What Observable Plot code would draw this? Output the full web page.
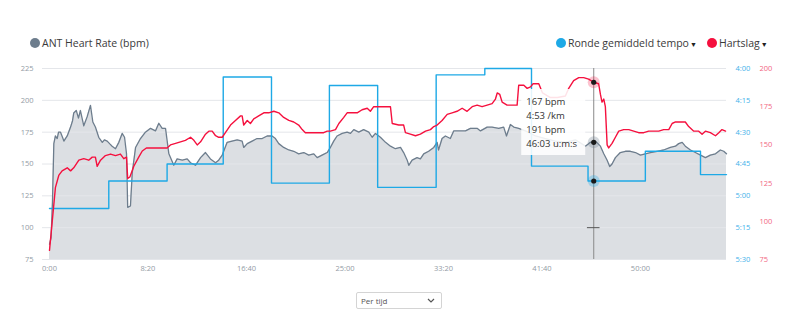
<!DOCTYPE html>
<html><head><meta charset="utf-8">
<script src="https://cdn.jsdelivr.net/npm/d3@7"></script>
<script src="https://cdn.jsdelivr.net/npm/@observablehq/plot@0.6"></script>
<style>
body{margin:0;background:#fff;font-family:"Open Sans",sans-serif;width:800px;height:311px;overflow:hidden}
#legend{position:relative;height:56px}
.item{position:absolute;top:35px;height:16px;line-height:16px;font-size:10.5px;color:#3a3a3a;white-space:nowrap}
.dot{display:inline-block;width:10px;height:10px;border-radius:50%;vertical-align:-1px;margin-right:2px}
.caret{font-size:7px;margin-left:1px;color:#222}
#chart svg{display:block}
#ctrl{padding-top:12px}
select{display:block;margin-left:356px;width:86px;height:17px;font-family:"Open Sans";font-size:8px;color:#555;border:1px solid #d4d4d4;border-radius:2px;padding:0 4px;
 -webkit-appearance:none;appearance:none;
 background:#fff url("data:image/svg+xml,%3Csvg xmlns='http://www.w3.org/2000/svg' width='8' height='5'%3E%3Cpath d='M1 1l3 3 3-3' fill='none' stroke='%23555' stroke-width='1.2'/%3E%3C/svg%3E") no-repeat right 6px center}
</style></head>
<body>
<div id="legend">
  <div class="item" style="left:30px"><span class="dot" style="background:#6d7d8d"></span>ANT Heart Rate (bpm)</div>
  <div class="item" style="left:556px"><span class="dot" style="background:#1ea9e6"></span>Ronde gemiddeld tempo<span class="caret">▼</span></div>
  <div class="item" style="left:707px"><span class="dot" style="background:#f5103e"></span>Hartslag<span class="caret">▼</span></div>
</div>
<div id="chart"></div>
<div id="ctrl"><select><option>Per tijd</option></select></div>
<script>
// ANT Heart Rate (left axis, bpm) — time in seconds
const antTime = [0,8,15,22,30,39,46,56,66,73,81,90,107,117,123,136,147,157,174,191,208,220,233,250,268,279,293,305,318,335,352,369,381,391,397,411,420,437,462,487,513,538,555,572,589,606,631,648,674,699,716,741,767,792,817,843,859,877,902,927,953,978,986,1004,1029,1054,1080,1105,1130,1147,1164,1189,1215,1240,1265,1291,1316,1342,1359,1384,1410,1426,1443,1460,1486,1511,1528,1545,1570,1595,1621,1638,1655,1680,1706,1731,1756,1782,1798,1816,1824,1841,1866,1883,1900,1925,1951,1968,1975,1993,2010,2035,2052,2086,2112,2137,2171,2188,2222,2247,2281,2306,2320,2340,2357,2382,2416,2467,2518,2568,2619,2670,2721,2746,2772,2797,2814,2831,2844,2856,2873,2898,2924,2949,2975,3000,3025,3051,3085,3118,3152,3178,3194,3212,3228,3254,3279,3305,3330,3355,3381,3406,3423,3437];
const antBpm = [87,92,120,166,172,170,175,175,171,168,
170,172,179,184,190,192,186,192,180,187,
196,183,179,171,167,169,168,166,164,162,
167,174,171,158,116,117,143,163,170,175,
178,176,182,178,178,158,149,154,153,154,
151,149,155,159,154,151,153,157,167,168,
169,168,163,166,168,170,170,172,172,170,
166,163,161,160,158,159,157,158,155,157,
159,163,168,172,174,175,174,177,175,177,
175,171,174,171,167,164,162,163,159,153,
149,153,155,154,158,160,163,167,161,170,
172,170,176,176,176,178,178,176,179,179,
178,179,172,181,179,178,176,172,170,168,
167,169,164,167,168,164,158,153,148,150,
155,159,160,160,159,157,158,159,160,161,
163,164,166,167,164,161,159,157,155,157,
158,161,160,158];

// Hartslag (right red axis)
const hrTime = [0,14,30,47,64,90,107,123,149,174,
199,217,233,242,259,284,310,335,360,377,
391,397,408,428,453,471,492,513,538,555,
580,597,614,640,665,690,716,733,750,767,
792,809,826,843,859,877,893,919,944,970,
978,986,1004,1020,1037,1062,1088,1113,1139,1164,
1189,1215,1240,1265,1283,1299,1325,1359,1392,1410,
1426,1452,1469,1494,1511,1537,1562,1587,1613,1629,
1646,1680,1706,1731,1740,1773,1798,1807,1832,1858,
1883,1909,1934,1951,1968,1993,2019,2044,2069,2095,
2120,2146,2171,2196,2222,2247,2264,2273,2286,2298,
2323,2349,2374,2382,2408,2425,2442,2455,2472,2484,
2503,2543,2579,2619,2636,2661,2687,2712,2737,2763,
2788,2797,2805,2814,2822,2831,2839,2856,2873,2890,
2915,2941,2966,2991,3017,3042,3067,3093,3118,3144,
3161,3178,3203,3228,3245,3271,3296,3313,3330,3355,
3381,3398,3414,3432];
const hrBpm = [81,100,122,130,133,135,133,135,140,141,
140,142,142,136,140,143,144,143,144,141,
142,128,129,136,142,146,148,148,148,148,
148,148,150,151,152,153,155,153,150,152,
157,159,159,156,155,155,158,163,166,169,
169,163,166,164,167,169,171,171,172,171,
168,166,165,163,160,158,158,158,158,159,
159,160,164,168,171,171,171,173,174,172,
175,175,175,175,164,163,163,158,157,156,
157,159,160,162,163,166,170,171,172,174,
172,175,176,175,176,177,180,184,183,178,
176,176,176,189,189,187,188,190,190,190,
184,181,181,182,187,192,194,194,193,191,
190,183,178,180,175,150,148,151,155,159,
160,160,159,158,158,159,159,159,160,160,
164,165,165,165,162,159,159,157,159,158,
156,158,160,159];

// Ronde gemiddeld tempo (laps, seconds per km)
const lapStart = [0,301,597,882,1127,1421,1666,1963,2210,2447,2734,3025,3305];
const lapPace  = [306,293,285,244,294,248,296,243,240,286,293,279,290];
const endTime = 3437;

// axes
const xTicks = [0,500,1000,1500,2000,2500,3000];
const leftTicks = [75,100,125,150,175,200,225];
const paceTicks = [240,255,270,285,300,315,330];
const hrTicks = [75,100,125,150,175,200];

// cursor / tooltip
const cursorTime = 2763;
const cursorAnt = 167, cursorPace = 293, cursorHr = 191, cursorMark = 100;
const tooltipLines = ["167 bpm","4:53 /km","191 bpm","46:03 u:m:s"];

const C = {gray:"#6d7d8d", fill:"#dcdfe3", red:"#f5103e", blue:"#1ea9e6"};
const mmss = s => `${Math.floor(s/60)}:${String(Math.round(s%60)).padStart(2,"0")}`;
const yR = d3.scaleLinear().domain([75,200]).range([75,225]);
const yT = d3.scaleLinear().domain([240,330]).range([225,75]);

const ant = antTime.map((t,i)=>({t, v: antBpm[i]}));
const hr = hrTime.map((t,i)=>({t, v: hrBpm[i]}));
const laps = lapStart.map((t,i)=>({t, s: lapPace[i]}));
laps.push({t: endTime, s: lapPace[lapPace.length-1]});

const plot = Plot.plot({
  width: 800, height: 224,
  marginTop: 12, marginBottom: 21, marginLeft: 42, marginRight: 74,
  style: {fontFamily: "Open Sans", fontSize: "7.5px", background: "#fff", overflow: "visible"},
  x: {domain: [0, endTime], insetLeft: 7},
  y: {domain: [75, 225]},
  marks: [
    Plot.areaY(ant, {x: "t", y1: 75, y2: "v", fill: C.fill}),
    Plot.gridY(leftTicks, {stroke: "#e4e6ea", strokeOpacity: 1}),
    Plot.line(ant, {x: "t", y: "v", stroke: C.gray, strokeWidth: 1.3}),
    Plot.line(laps, {x: "t", y: d => yT(d.s), curve: "step-after", stroke: C.blue, strokeWidth: 1.4}),
    Plot.line(hr, {x: "t", y: d => yR(d.v), stroke: C.red, strokeWidth: 1.4}),
    Plot.axisX({ticks: xTicks, tickFormat: mmss, tickSize: 0, tickPadding: 6, fill: "#939ba5", label: null}),
    Plot.axisY({anchor: "left", ticks: leftTicks, tickSize: 0, tickPadding: 9, fill: "#939ba5", label: null}),
    Plot.axisY({anchor: "right", ticks: paceTicks.map(yT), tickFormat: d => mmss(Math.round(yT.invert(d))), tickSize: 0, tickPadding: 9, fill: "#3fb2ea", label: null}),
    Plot.axisY({anchor: "right", ticks: hrTicks.map(yR), tickFormat: d => String(Math.round(yR.invert(d))), tickSize: 0, tickPadding: 33, fill: "#f2667f", label: null}),
    Plot.ruleX([cursorTime], {y1: 75, y2: 225, stroke: "#8a8a8a", strokeWidth: 1}),
    Plot.ruleY([cursorMark], {x1: cursorTime - 32, x2: cursorTime + 32, stroke: "#555", strokeWidth: 1}),
    Plot.dot([yR(cursorHr)], {x: cursorTime, y: d => d, r: 6, fill: C.red, fillOpacity: 0.25}),
    Plot.dot([cursorAnt], {x: cursorTime, y: d => d, r: 6, fill: C.gray, fillOpacity: 0.3}),
    Plot.dot([yT(cursorPace)], {x: cursorTime, y: d => d, r: 6, fill: C.blue, fillOpacity: 0.3}),
    Plot.dot([yR(cursorHr), cursorAnt, yT(cursorPace)], {x: cursorTime, y: d => d, r: 2.6, fill: "#1a1a1a"})
  ]
});
document.getElementById("chart").appendChild(plot);

// tooltip box
const svgSel = d3.select(plot);
const cursorX = plot.scale("x").apply(cursorTime);
const plotTopY = plot.scale("y").apply(225);
const tipG = svgSel.append("g").attr("text-anchor", "start");
tipG.append("rect").attr("x", cursorX - 72).attr("y", plotTopY + 21).attr("width", 64).attr("height", 66)
  .attr("fill", "#fff").attr("fill-opacity", 0.88);
tooltipLines.forEach((t, i) => {
  tipG.append("text").attr("x", cursorX - 67).attr("y", plotTopY + 37 + i * 14).text(t)
    .attr("fill", "#333").attr("font-size", "9.5px").attr("font-family", "Open Sans");
});
</script>
</body></html>
